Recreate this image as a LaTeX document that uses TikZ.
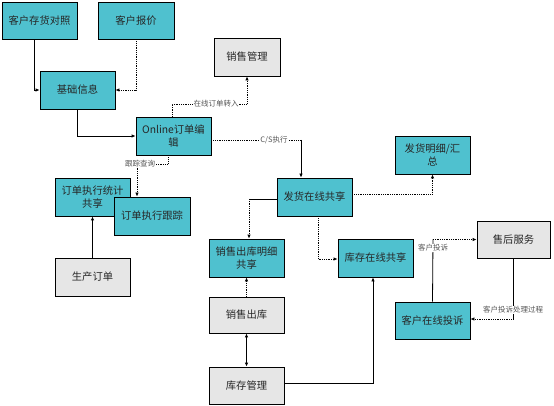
\documentclass[tikz,border=0pt]{standalone}
\usepackage{fontspec}
\setmainfont{Noto Sans CJK SC}
\usetikzlibrary{arrows.meta}
\definecolor{teal1}{HTML}{4FC1CF}
\definecolor{gray1}{HTML}{E6E6E6}
\definecolor{lbl}{HTML}{555555}
\tikzset{
  box/.style={draw=black,line width=0.8pt,minimum width=75pt,minimum height=38pt,inner sep=1pt,align=center,text width=68pt,font=\fontsize{10.3}{12.5}\selectfont,text=black!85},
  tbox/.style={box,fill=teal1},
  gbox/.style={box,fill=gray1},
  conn/.style={line width=0.8pt,-{Latex[length=4pt,width=3.5pt]}},
  plain/.style={line width=0.8pt},
  dots/.style={densely dotted},
  lab/.style={fill=white,inner sep=0.5pt,text=lbl,font=\fontsize{7.5}{8}\selectfont}
}
\begin{document}
\begin{tikzpicture}[x=1pt,y=-1pt]
\useasboundingbox (0,0) rectangle (554,406);
\node[tbox,minimum height=37pt] (khch) at (39.5,20.5) {客户存货对照};
\node[tbox,minimum height=37pt,minimum width=76pt] (khbj) at (136,20.5) {客户报价};
\node[gbox,minimum width=66pt,text width=60pt] (xsgl) at (247,57) {销售管理};
\node[tbox] (jcxx) at (77.5,90) {基础信息};
\node[tbox] (online) at (173.5,136) {Online订单编\\辑};
\node[tbox] (fhmx) at (432.5,155) {发货明细/汇\\总};
\node[tbox] (fhzx) at (314.5,197) {发货在线共享};
\node[tbox] (ddtj) at (92.5,197) {订单执行统计\\共享};
\node[tbox,minimum width=76pt] (ddgz) at (152,216) {订单执行跟踪};
\node[tbox] (xsmx) at (246.5,258) {销售出库明细\\共享};
\node[tbox] (kczx) at (375.5,258) {库存在线共享};
\node[gbox,minimum width=73pt,minimum height=37pt] (shfw) at (513.5,239.5) {售后服务};
\node[tbox,minimum height=37pt] (tousu) at (432.5,320.5) {客户在线投诉};
\node[gbox] (sccd) at (92.5,277) {生产订单};
\node[gbox,minimum height=36pt] (xsck) at (246.5,315) {销售出库};
\node[gbox,minimum height=37pt] (kcgl) at (246.5,385.5) {库存管理};
% connectors
\draw[conn] ([xshift=-5.5pt]khch.south) |- (jcxx.west);
\draw[conn,dots] (khbj.south) |- (jcxx.east);
\draw[conn] (jcxx.south) |- (online.west);
\coordinate (c4) at (247,104);
\draw[conn,dots] ([xshift=-1.5pt]online.north) |- (c4) -- (xsgl.south);
\node[lab] (l4) at (216,104) {在线订单转入};
\coordinate (c5) at (301,140);
\draw[plain,dots] ([yshift=-4pt]online.east) -- (c5);
\draw[conn] (c5) -- ([xshift=-13.5pt]fhzx.north);
\node[lab] (l5) at (274,140) {C/S执行};
\coordinate (c6) at (168,164);
\draw[conn,dots] ([xshift=-5.5pt]online.south) -- (c6) -| ([xshift=-15pt]ddgz.north);
\node[lab] (l6) at (140,163.5) {跟踪查询};
\draw[conn] (sccd.north) -- (ddtj.south);
\draw[conn,dots] ([yshift=3pt]fhzx.east) -| (fhmx.south);
\coordinate (c9) at (249,199);
\draw[plain] ([yshift=-2pt]fhzx.west) -- (c9);
\draw[conn,dots] (c9) -- ([xshift=2.5pt]xsmx.north);
\draw[conn,dots] ([xshift=3.5pt]fhzx.south) |- ([yshift=-1pt]kczx.west);
\draw[conn,dots] (xsck.north) -- (xsmx.south);
\draw[line width=0.8pt,{Latex[length=4pt,width=3.5pt]}-{Latex[length=4pt,width=3.5pt]}] (xsck.south) -- (kcgl.north);
\draw[conn] ([yshift=2.5pt]kcgl.east) -| ([xshift=-2.5pt]kczx.south);
\coordinate (c14) at (433,239.5);
\draw[plain] (tousu.north) -- (c14);
\draw[conn,dots] (c14) -- (shfw.west);
\node[lab] (l14) at (433,248) {客户投诉};
\coordinate (c15) at (513.5,319);
\draw[plain] (shfw.south) -- (c15);
\draw[conn,dots] (c15) -- (tousu.east |- c15);
\node[lab] (l15) at (513,310) {客户投诉处理过程};
\end{tikzpicture}
\end{document}
